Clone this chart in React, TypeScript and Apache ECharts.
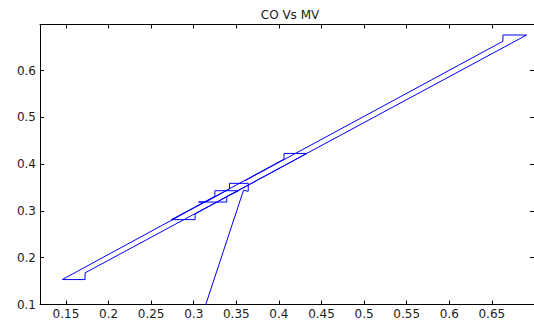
import React, { useEffect, useRef } from "react";
import * as echarts from "echarts";

// Trajectory of the loop (x = MV axis values, y = CO axis values)
const mv = [0.296, 0.3584, 0.364, 0.364, 0.342, 0.342, 0.3138, 0.3056, 0.3388, 0.3388, 0.3528, 0.3248, 0.3248, 0.2736, 0.3016, 0.3016, 0.4328, 0.406, 0.406, 0.1456, 0.1724, 0.1724, 0.6908, 0.663, 0.663, 0.36];
const co = [0.0, 0.344, 0.342, 0.359, 0.359, 0.347, 0.319, 0.319, 0.319, 0.331, 0.3432, 0.3432, 0.3311, 0.2814, 0.2814, 0.2935, 0.4229, 0.4229, 0.4108, 0.1533, 0.1533, 0.1676, 0.676, 0.676, 0.6626, 0.3644];

const xTicks = [0.15, 0.2, 0.25, 0.3, 0.35, 0.4, 0.45, 0.5, 0.55, 0.6, 0.65];
const yTicks = [0.1, 0.2, 0.3, 0.4, 0.5, 0.6];

const titleText = "CO Vs MV";

export default function App() {
  const ref = useRef<HTMLDivElement>(null);
  useEffect(() => {
    if (!ref.current) return;
    const chart = echarts.init(ref.current, null, { renderer: "svg" });
    const font = "DejaVu Sans";
    const axisLine = { show: true, onZero: false, lineStyle: { color: "#000", width: 1 } };
    const tickStyle = { color: "#000", width: 1 };
    const fmt = (v: number) => String(Math.round(v * 100) / 100);
    const xBase = { type: "value", min: 0.1195, max: 0.6995, splitLine: { show: false }, axisLine };
    const yBase = { type: "value", min: 0.1, max: 0.6985, splitLine: { show: false }, axisLine };
    chart.setOption({
      animation: false,
      backgroundColor: "#fff",
      title: {
        text: titleText,
        left: 285,
        textAlign: "center",
        top: 4,
        textStyle: { fontFamily: font, fontSize: 12, fontWeight: "normal", color: "#1a1a1a" },
      },
      grid: { left: 40, right: -0.5, top: 24.5, bottom: 17.5, containLabel: false },
      xAxis: [
        {
          ...xBase,
          position: "bottom",
          axisTick: { show: true, inside: true, length: 4, customValues: xTicks, lineStyle: tickStyle },
          axisLabel: { show: true, customValues: xTicks, formatter: fmt, margin: 3, fontFamily: font, fontSize: 12, color: "#1a1a1a" },
        },
        {
          ...xBase,
          position: "top",
          axisTick: { show: true, inside: true, length: 4, customValues: xTicks, lineStyle: tickStyle },
          axisLabel: { show: false },
        },
      ],
      yAxis: [
        {
          ...yBase,
          position: "left",
          axisTick: { show: true, inside: true, length: 4, customValues: yTicks, lineStyle: tickStyle },
          axisLabel: { show: true, customValues: yTicks, formatter: fmt, margin: 4, fontFamily: font, fontSize: 12, color: "#1a1a1a" },
        },
        {
          ...yBase,
          position: "right",
          axisTick: { show: true, inside: true, length: 4, customValues: yTicks, lineStyle: tickStyle },
          axisLabel: { show: false },
        },
      ],
      series: [
        {
          type: "line",
          xAxisIndex: 0,
          yAxisIndex: 0,
          data: mv.map((x, i) => [x, co[i]]),
          showSymbol: false,
          symbol: "none",
          clip: true,
          lineStyle: { color: "#0000ff", width: 1 },
          emphasis: { disabled: true },
        },
      ],
    });
    return () => chart.dispose();
  }, []);
  return <div ref={ref} style={{ width: 534, height: 322, position: "absolute", left: 0, top: 0 }} />;
}
